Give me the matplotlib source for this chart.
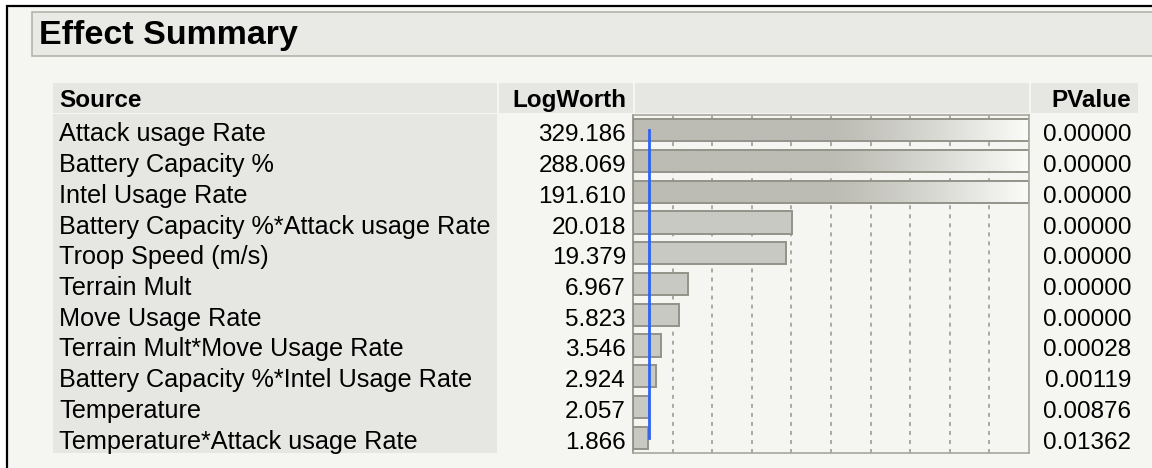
import numpy as np
import matplotlib.pyplot as plt
from matplotlib.colors import to_rgb

plt.rcParams['font.family'] = ['Liberation Sans', 'DejaVu Sans']

# effect summary table
sources = [
    'Attack usage Rate',
    'Battery Capacity %',
    'Intel Usage Rate',
    'Battery Capacity %*Attack usage Rate',
    'Troop Speed (m/s)',
    'Terrain Mult',
    'Move Usage Rate',
    'Terrain Mult*Move Usage Rate',
    'Battery Capacity %*Intel Usage Rate',
    'Temperature',
    'Temperature*Attack usage Rate',
]
logworth = [329.186, 288.069, 191.610, 20.018, 19.379, 6.967, 5.823,
            3.546, 2.924, 2.057, 1.866]
pvalues = [0.00000, 0.00000, 0.00000, 0.00000, 0.00000, 0.00000, 0.00000,
           0.00028, 0.00119, 0.00876, 0.01362]
grid_ticks = [5, 10, 15, 20, 25, 30, 35, 40, 45]
x_max = 50
ref_line = 2  # logworth of p = 0.01

page_bg = '#f5f5f1'
cell_gray = '#e6e6e3'
bar_fill = '#c9c9c3'
bar_full = '#bcbcb4'
bar_edge = '#939389'
fs = 17.5
fs_label = 18.2

W, H = 1152, 468
fig = plt.figure(figsize=(W / 100, H / 100), dpi=100)
fig.patch.set_facecolor('white')

page = fig.add_axes([0, 0, 1, 1])
page.set_xlim(0, W)
page.set_ylim(H, 0)
page.axis('off')

# outer frame and background
page.add_patch(plt.Rectangle((7, 6), W, H, facecolor=page_bg,
                             edgecolor='black', lw=1.6, zorder=0))

# title bar
page.add_patch(plt.Rectangle((32, 12), W, 44, facecolor='#e9e9e5',
                             edgecolor='#b4b4ac', lw=1.2, zorder=1))
page.text(39, 44, 'Effect Summary', fontsize=24.5, fontweight='bold',
          va='baseline', ha='left', zorder=2)

# table geometry
top, bottom = 115, 453
n = len(sources)
pitch = (bottom - top) / n
row_y = [top + pitch * (i + 0.5) for i in range(n)]

# header cells
hdr_top, hdr_bot = 83, 113
for x0, x1 in [(53, 497), (499, 633), (635, 1029), (1031, 1138)]:
    page.add_patch(plt.Rectangle((x0, hdr_top), x1 - x0, hdr_bot - hdr_top,
                                 facecolor=cell_gray, lw=0, zorder=1))
page.add_patch(plt.Rectangle((53, 114), 497 - 53, bottom - 114,
                             facecolor=cell_gray, lw=0, zorder=1))

hy = 107
page.text(59, hy, 'Source', fontsize=fs, fontweight='bold', va='baseline', ha='left')
page.text(626, hy, 'LogWorth', fontsize=fs, fontweight='bold', va='baseline', ha='right')
page.text(1131, hy, 'PValue', fontsize=fs, fontweight='bold', va='baseline', ha='right')

for y, s, lw_, p in zip(row_y, sources, logworth, pvalues):
    page.text(59, y + 11, s, fontsize=fs_label, va='baseline', ha='left')
    page.text(626, y + 11, f'{lw_:.3f}', fontsize=fs, va='baseline', ha='right')
    page.text(1131, y + 11, f'{p:.5f}', fontsize=fs, va='baseline', ha='right')

# bar chart column
ax = fig.add_axes([633 / W, 1 - bottom / H, (1029 - 633) / W, (bottom - top) / H])
ax.set_facecolor(page_bg)
ypos = np.arange(n)
bh = 0.72

ax.vlines(grid_ticks, -0.5, n - 0.5, colors='#a4a49c', linestyles=(0, (2.2, 2.8)),
          lw=1.3, zorder=1)

widths = [min(v, x_max) for v in logworth]
bars = ax.barh(ypos, widths, height=bh, color=bar_fill, edgecolor=bar_edge,
               lw=1.4, zorder=2)

# bars past the axis end get a fade to white
c0 = np.array(to_rgb(bar_full))
c1 = np.array(to_rgb('#fbfbf9'))
t = np.linspace(0, 1, 400)
fade = np.clip((t - 0.5) / 0.5, 0, 1) ** 1.2
grad = (c0[None, :] * (1 - fade[:, None]) + c1[None, :] * fade[:, None])[None, :, :]
for b, v, y in zip(bars, logworth, ypos):
    if v > x_max:
        b.set_facecolor('none')
        im = ax.imshow(grad, extent=[0, x_max, y + bh / 2, y - bh / 2],
                       aspect='auto', zorder=1.9, interpolation='bilinear')
        im.set_clip_path(b)

ax.plot([ref_line, ref_line], [ypos[0], ypos[-1]], color='#2f62f5', lw=2.0, zorder=3)

ax.set_xlim(0, x_max)
ax.set_ylim(n - 0.5, -0.5)
ax.set_xticks([])
ax.set_yticks([])
for side in ['left', 'right', 'top', 'bottom']:
    ax.spines[side].set_color('#a8a8a0')
    ax.spines[side].set_linewidth(1.2)
ax.spines['left'].set_color('#8c8c84')

fig.savefig('out.png', dpi=100, facecolor=fig.get_facecolor())
